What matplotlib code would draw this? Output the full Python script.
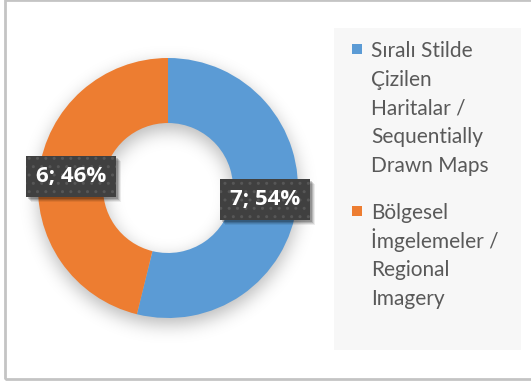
import numpy as np
import matplotlib
matplotlib.use('Agg')
import matplotlib.pyplot as plt
from matplotlib.patches import Rectangle

# Datos
etiquetas = [['Sıralı Stilde', 'Çizilen', 'Haritalar /', 'Sequentially', 'Drawn Maps'],
             ['Bölgesel', 'İmgelemeler /', 'Regional', 'Imagery']]
valores = [7, 6]
colores = ['#5B9BD5', '#ED7D31']

W, H = 531, 381
fig = plt.figure(figsize=(W / 100, H / 100), dpi=100)
fig.patch.set_facecolor('white')

# centro y radio del anillo en pixeles
cx, cy, R = 168, 188, 130
hueco = 0.5


def caja(x0, y0, w, h):
    # pixeles (origen arriba a la izquierda) -> coordenadas de figura
    return [x0 / W, 1 - (y0 + h) / H, w / W, h / H]


# Sombra difusa del anillo
ax_s = fig.add_axes([0, 0, 1, 1])
ax_s.set_axis_off()
yy, xx = np.mgrid[0:H, 0:W]
rr = np.hypot(xx - cx, yy - (cy + 6))
mask = ((rr <= R) & (rr >= R * hueco)).astype(float)


def suavizar(img, s):
    k = np.arange(-3 * s, 3 * s + 1)
    g = np.exp(-k**2 / (2 * s**2))
    g /= g.sum()
    img = np.apply_along_axis(lambda v: np.convolve(v, g, mode='same'), 0, img)
    img = np.apply_along_axis(lambda v: np.convolve(v, g, mode='same'), 1, img)
    return img


sombra = suavizar(mask, 9)
rgba = np.zeros((H, W, 4))
rgba[..., 3] = sombra * 0.28
ax_s.imshow(rgba, extent=[0, W, H, 0], interpolation='bilinear')
ax_s.set_xlim(0, W)
ax_s.set_ylim(H, 0)

# Anillo
ax = fig.add_axes(caja(cx - R, cy - R, 2 * R, 2 * R))
ax.set_axis_off()
wedges, _ = ax.pie(valores, colors=colores, startangle=90, counterclock=False,
                   radius=1, wedgeprops=dict(width=1 - hueco, linewidth=0))
ax.set_xlim(-1, 1)
ax.set_ylim(-1, 1)

total = sum(valores)
r_med = (1 + hueco) / 2
textos = []
for w, v in zip(wedges, valores):
    ang = np.deg2rad((w.theta1 + w.theta2) / 2)
    pct = round(100 * v / total)
    t = ax.text(r_med * np.cos(ang), r_med * np.sin(ang), f'{v}; {pct}%',
                ha='center', va='center', color='white', fontsize=16,
                fontweight='bold', family='Open Sans', zorder=5,
                bbox=dict(boxstyle='square,pad=0.45', facecolor='#404040',
                          edgecolor='#575757', hatch='..', linewidth=0))
    textos.append(t)

# sombra de las cajas de etiqueta (debajo del texto, encima del anillo)
fig.canvas.draw()
for t in textos:
    bb = t.get_bbox_patch().get_window_extent()
    for k, a in [(5, 0.07), (4, 0.10), (3, 0.14), (2, 0.18)]:
        ax.add_patch(Rectangle((bb.x0 + k, bb.y0 - k), bb.width, bb.height,
                               transform=None, facecolor='black', clip_on=False,
                               edgecolor='none', alpha=a, zorder=4))

# Leyenda
fig.patches.append(Rectangle((334 / W, 1 - 350 / H), 187 / W, 322 / H,
                             transform=fig.transFigure, facecolor='#f7f7f7',
                             edgecolor='none', zorder=0))
base0 = [57, 219]
paso = 28.7
for lineas, col, b0 in zip(etiquetas, colores, base0):
    fig.patches.append(Rectangle((352 / W, 1 - (b0 - 3) / H), 10 / W, 10 / H,
                                 transform=fig.transFigure, facecolor=col,
                                 edgecolor='none'))
    for i, linea in enumerate(lineas):
        fig.text(371 / W, 1 - (b0 + i * paso) / H, linea, ha='left',
                 va='baseline', fontsize=15, color='#595959', family='Lato')

# Marco exterior
fig.patches.append(Rectangle((5 / W, 1 - 379 / H), 530 / W, 379 / H,
                             transform=fig.transFigure, facecolor='none',
                             edgecolor='#c4c4c4', linewidth=2, zorder=10))

fig.savefig('out.png', dpi=100)
plt.close(fig)
